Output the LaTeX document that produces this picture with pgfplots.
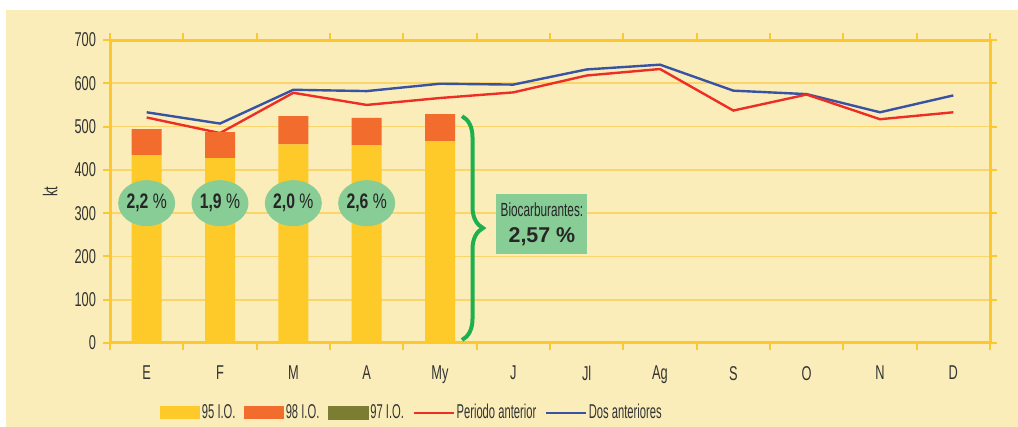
\documentclass[border=0pt]{standalone}
\usepackage{fontspec}
\setmainfont{Liberation Sans}
\usepackage{graphicx}
\usepackage{pgfplots}
\pgfplotsset{compat=1.18}
\usetikzlibrary{decorations.pathreplacing,shapes.geometric}
\definecolor{bg}{HTML}{FAEDB9}
\definecolor{frame}{HTML}{FDC82F}
\definecolor{gridy}{HTML}{FBD46A}
\definecolor{yel}{HTML}{FDCA2A}
\definecolor{ora}{HTML}{F16C2D}
\definecolor{oli}{HTML}{7B7D33}
\definecolor{redl}{HTML}{EE2E24}
\definecolor{bluel}{HTML}{3953A4}
\definecolor{ell}{HTML}{88CC96}
\definecolor{brace}{HTML}{1EB04F}
\definecolor{txt}{HTML}{333333}
\newcommand\cnd[1]{\scalebox{0.64}[1]{#1}}
\newcommand\lcn[1]{\scalebox{0.56}[1]{#1}}
\begin{document}
\begin{tikzpicture}
\useasboundingbox (0,0) rectangle (509pt,213.5pt);
\fill[bg] (3pt,0) rectangle (509pt,208.5pt);
\begin{axis}[
  at={(55pt,42pt)}, anchor=south west,
  scale only axis, width=440pt, height=151.5pt,
  font=\fontsize{10}{11}\selectfont, text=txt,
  ybar stacked, bar width=15pt,
  xmin=-0.5, xmax=11.5, ymin=0, ymax=700,
  xtick={0,...,11},
  xticklabels={\cnd{E},\cnd{F},\cnd{M},\cnd{A},\cnd{My},\cnd{J},\cnd{Jl},\cnd{Ag},\cnd{S},\cnd{O},\cnd{N},\cnd{D}},
  minor xtick={-0.5,0.5,...,11.5},
  major x tick style={draw=none},
  minor x tick style={frame, line width=1pt},
  minor tick length=3.5pt,
  ytick={0,100,...,700},
  yticklabels={\cnd{0},\cnd{100},\cnd{200},\cnd{300},\cnd{400},\cnd{500},\cnd{600},\cnd{700}},
  major y tick style={frame, line width=1pt},
  major tick length=3.5pt,
  tick align=outside,
  xticklabel style={yshift=-4.5pt, text=txt},
  yticklabel style={text=txt},
  ymajorgrids, grid style={gridy, line width=0.8pt},
  axis line style={frame, line width=1.5pt},
  ylabel={\cnd{kt}},
  every axis y label/.style={at={(axis description cs:-0.068,0.5)}, rotate=90, anchor=center, text=txt},
  legend columns=5,
  legend style={at={(axis description cs:0.343,-0.231)}, anchor=center, draw=none, fill=none,
    font=\fontsize{10}{11}\selectfont, text=txt,
    /tikz/every even column/.append style={column sep=3.5pt},
    /tikz/every odd column/.append style={column sep=0pt},
    nodes={inner sep=0.8pt}},
]
\addplot[fill=yel, draw=none,
  legend image code/.code={\fill[yel] (0pt,-3.25pt) rectangle (20pt,3.25pt);}]
  coordinates {(0,434) (1,427) (2,459) (3,457) (4,466)};
\addlegendentry{\lcn{95 I.O.}}
\addplot[fill=ora, draw=none,
  legend image code/.code={\fill[ora] (0pt,-3.25pt) rectangle (20pt,3.25pt);}]
  coordinates {(0,60) (1,60) (2,65) (3,63) (4,63)};
\addlegendentry{\lcn{98 I.O.}}
\addlegendimage{legend image code/.code={\fill[oli] (0pt,-3.25pt) rectangle (20pt,3.25pt);}}
\addlegendentry{\lcn{97 I.O.}}
\addplot[sharp plot, stack plots=false, redl, line width=1.2pt, no markers,
  legend image code/.code={\draw[redl, line width=1.2pt] (0pt,0pt) -- (20pt,0pt);}]
  coordinates {(0,521) (1,485) (2,578) (3,550) (4,566) (5,579) (6,618) (7,633) (8,537) (9,574) (10,517) (11,533)};
\addlegendentry{\lcn{Periodo anterior}}
\addplot[sharp plot, stack plots=false, bluel, line width=1.2pt, no markers,
  legend image code/.code={\draw[bluel, line width=1.2pt] (0pt,0pt) -- (20pt,0pt);}]
  coordinates {(0,533) (1,507) (2,585) (3,582) (4,599) (5,597) (6,632) (7,643) (8,583) (9,575) (10,533) (11,572)};
\addlegendentry{\lcn{Dos anteriores}}
\coordinate (e0) at (axis cs:0,323);
\coordinate (e1) at (axis cs:1,323);
\coordinate (e2) at (axis cs:2,323);
\coordinate (e3) at (axis cs:3,323);
\coordinate (bt) at (axis cs:4.30,524);
\coordinate (bb) at (axis cs:4.30,7);
\coordinate (bx) at (axis cs:5.39,274);
\end{axis}
\tikzset{ell/.style={ellipse, fill=ell, minimum width=26pt, minimum height=23pt, inner sep=0pt, text=black!85}}
\node[ell] at (e0) {\scalebox{0.75}[1]{\fontsize{10.5}{11}\selectfont\bfseries 2,2\ \mdseries\%}};
\node[ell] at (e1) {\scalebox{0.75}[1]{\fontsize{10.5}{11}\selectfont\bfseries 1,9\ \mdseries\%}};
\node[ell] at (e2) {\scalebox{0.75}[1]{\fontsize{10.5}{11}\selectfont\bfseries 2,0\ \mdseries\%}};
\node[ell] at (e3) {\scalebox{0.75}[1]{\fontsize{10.5}{11}\selectfont\bfseries 2,6\ \mdseries\%}};
\draw[brace, line width=2pt, decorate, decoration={brace, amplitude=10.5pt}] (bt) -- (bb);
\node[fill=ell, minimum width=45.5pt, minimum height=30pt, inner sep=0pt, align=center, text=black!85]
  at (bx) {\scalebox{0.62}[1]{\fontsize{9.5}{9.5}\selectfont Biocarburantes:}\\[1pt]{\fontsize{10.7}{11}\selectfont\bfseries 2,57 \%}};
\end{tikzpicture}
\end{document}
